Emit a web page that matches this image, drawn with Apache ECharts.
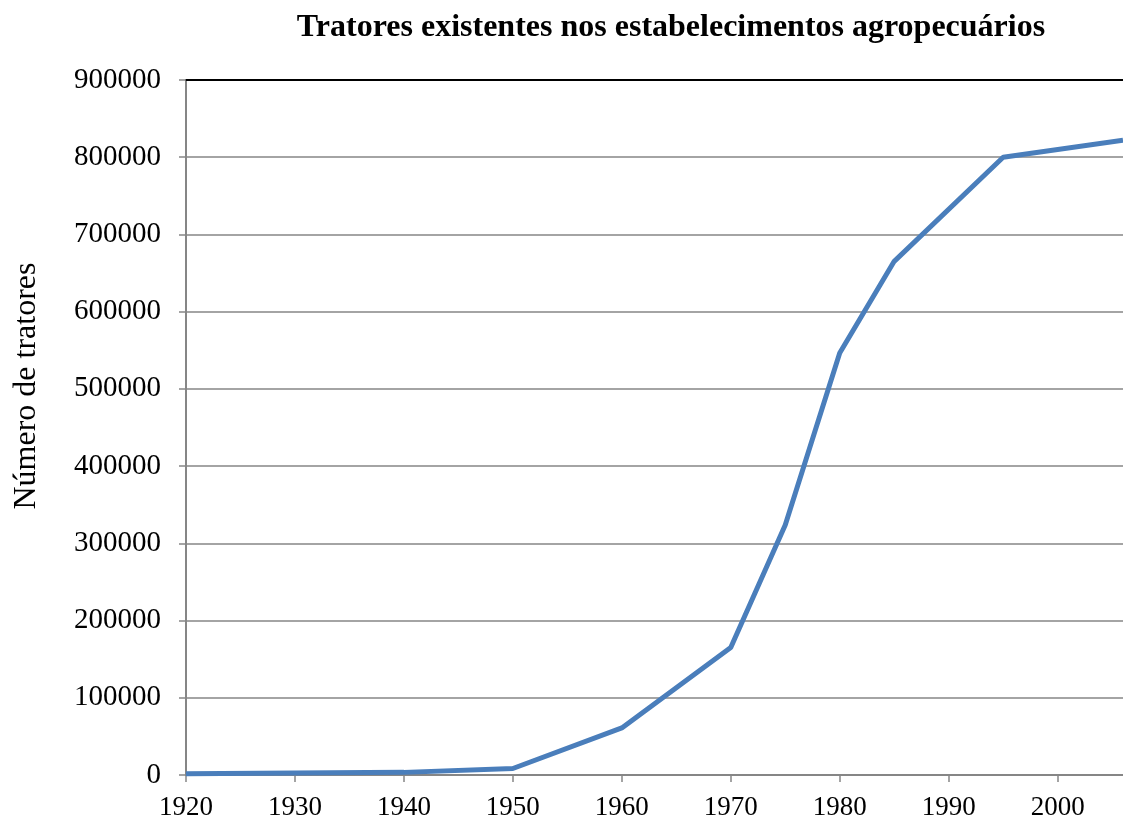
<!DOCTYPE html>
<html>
<head>
<meta charset="utf-8">
<title>Tratores</title>
<script src="https://cdn.jsdelivr.net/npm/echarts@6/dist/echarts.min.js"></script>
<style>
  html, body { margin: 0; padding: 0; background: #ffffff; }
  #main { width: 1123px; height: 822px; }
</style>
</head>
<body>
<div id="main"></div>
<script>
// anos do censo e número de tratores
var anos = [1920, 1940, 1950, 1960, 1970, 1975, 1980, 1985, 1995, 2006];
var tratores = [1700, 3400, 8400, 61000, 165200, 323700, 546400, 665200, 800000, 822000];

var tituloTexto = 'Tratores existentes nos estabelecimentos agropecuários';
var eixoYTexto = 'Número de tratores';

var fonte = '"Liberation Serif", "Times New Roman", serif';

var pontos = anos.map(function (a, i) {
  return [a, tratores[i]];
});

var chart = echarts.init(document.getElementById('main'));

var option = {
  backgroundColor: '#ffffff',
  animation: false,
  title: {
    text: tituloTexto,
    left: 666,
    top: 7,
    textAlign: 'center',
    textStyle: {
      fontFamily: fonte,
      fontWeight: 'bold',
      fontSize: 32,
      color: '#000000'
    }
  },
  grid: {
    left: 186,
    right: 0,
    top: 80,
    bottom: 47,
    containLabel: false
  },
  graphic: [{
    type: 'text',
    x: 27,
    y: 386,
    rotation: Math.PI / 2,
    style: {
      text: eixoYTexto,
      fontFamily: fonte,
      fontSize: 32,
      fill: '#000000',
      textAlign: 'center',
      textVerticalAlign: 'middle'
    }
  }],
  xAxis: [{
    type: 'value',
    min: 1920,
    max: 2006,
    interval: 10,
    axisLine: { show: true, lineStyle: { color: '#868686', width: 2 } },
    axisTick: { show: true, length: 7, lineStyle: { color: '#868686', width: 1.5 } },
    splitLine: { show: false },
    axisLabel: {
      showMaxLabel: false,
      margin: 19,
      fontFamily: fonte,
      fontSize: 27,
      color: '#000000',
      formatter: function (v) { return String(v); }
    }
  }, {
    // linha preta no topo
    type: 'value',
    position: 'top',
    min: 1920,
    max: 2006,
    axisLine: { show: true, onZero: false, lineStyle: { color: '#000000', width: 2 } },
    axisTick: { show: false },
    axisLabel: { show: false },
    splitLine: { show: false }
  }],
  yAxis: {
    type: 'value',
    min: 0,
    max: 900000,
    interval: 100000,
    axisLine: { show: true, lineStyle: { color: '#868686', width: 2 } },
    axisTick: { show: true, length: 7, lineStyle: { color: '#868686', width: 1.5 } },
    splitLine: { show: true, lineStyle: { color: '#868686', width: 1.5 } },
    axisLabel: {
      margin: 25,
      fontFamily: fonte,
      fontSize: 29,
      color: '#000000',
      formatter: function (v) { return String(v); }
    }
  },
  series: [{
    type: 'line',
    data: pontos,
    showSymbol: false,
    symbol: 'none',
    lineStyle: { color: '#4A7EBB', width: 5 },
    clip: true
  }]
};

chart.setOption(option);
</script>
</body>
</html>
